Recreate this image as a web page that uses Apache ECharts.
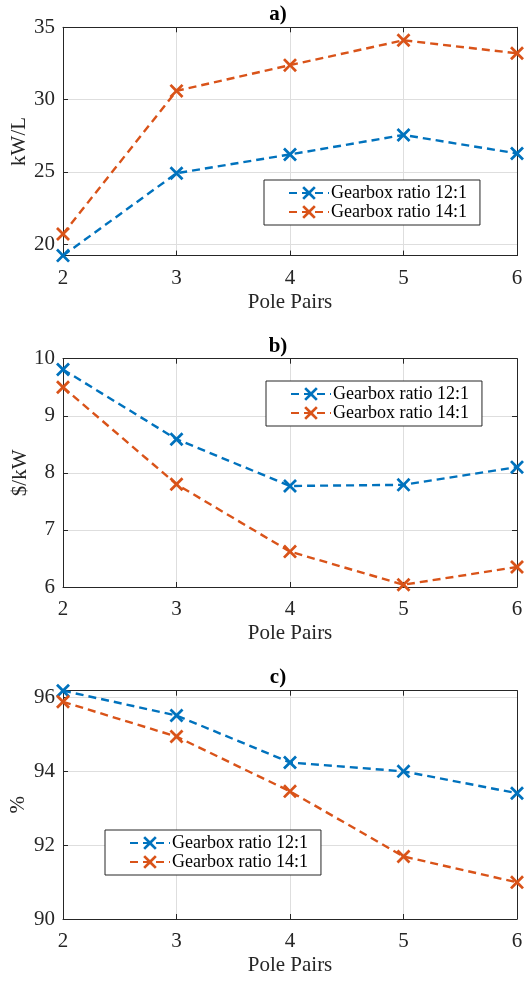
<!DOCTYPE html>
<html>
<head>
<meta charset="utf-8">
<script src="https://cdn.jsdelivr.net/npm/echarts@6/dist/echarts.min.js"></script>
<style>
  html, body { margin: 0; padding: 0; background: #fff; }
  #chart { width: 525px; height: 981px; }
</style>
</head>
<body>
<div id="chart"></div>
<script>
// Pole-pair sweep for two gearbox ratios
const polePairs = [2, 3, 4, 5, 6];
const seriesNames = ['Gearbox ratio 12:1', 'Gearbox ratio 14:1'];
const panelTitles = ['a)', 'b)', 'c)'];
const yAxisNames = ['kW/L', '$/kW', '%'];
const xAxisName = 'Pole Pairs';

// a) power density
const powerDensity12 = [19.2, 24.9, 26.2, 27.55, 26.27];
const powerDensity14 = [20.7, 30.6, 32.38, 34.1, 33.2];
// b) specific cost
const costPerKw12 = [9.81, 8.59, 7.77, 7.79, 8.10];
const costPerKw14 = [9.5, 7.80, 6.62, 6.04, 6.35];
// c) efficiency
const efficiency12 = [96.17, 95.5, 94.23, 93.99, 93.4];
const efficiency14 = [95.87, 94.93, 93.45, 91.69, 90.99];

const panels = [
  [powerDensity12, powerDensity14],
  [costPerKw12, costPerKw14],
  [efficiency12, efficiency14]
];

const FONT = '"Liberation Serif", "Times New Roman", serif';
const AXIS_COLOR = '#262626';
const COLORS = ['#0072BD', '#D95319'];
// cross marker drawn as a filled outline
const CROSS = 'path://M0,14L14,0L50,36L86,0L100,14L64,50L100,86L86,100L50,64L14,100L0,86L36,50Z';

const gridTops = [27.3, 358.7, 690.7];
const gridHeight = 228.3;
const yRanges = [
  { min: v => v.min, max: 35, splitNumber: 3, showMinLabel: false, showMaxLabel: true },
  { min: 6, max: 10, interval: 1, showMinLabel: true, showMaxLabel: true },
  { min: 90, max: v => v.max, interval: 2, showMinLabel: true, showMaxLabel: false }
];
const yNameGaps = [33, 32, 34];
const legendPos = [
  { left: 264, top: 180 },
  { left: 266, top: 381 },
  { left: 105, top: 830 }
];
const titleTops = [4, 336, 667];

const grid = [], xAxis = [], yAxis = [], series = [], legend = [], title = [];

panels.forEach((vals, i) => {
  grid.push({
    left: 63, right: 8, top: gridTops[i], height: gridHeight,
    containLabel: false, outerBoundsMode: 'none'
  });

  const xBase = {
    gridIndex: i, type: 'value', min: 2, max: 6, interval: 1,
    axisLine: { show: true, onZero: false, lineStyle: { color: AXIS_COLOR, width: 1 } },
    axisTick: { show: true, inside: true, length: 5, lineStyle: { color: AXIS_COLOR } }
  };
  xAxis.push(Object.assign({}, xBase, {
    position: 'bottom',
    name: xAxisName, nameLocation: 'middle', nameGap: 36, nameMoveOverlap: false,
    nameTextStyle: { fontFamily: FONT, fontSize: 21, color: AXIS_COLOR },
    axisLabel: { fontFamily: FONT, fontSize: 21, color: AXIS_COLOR, margin: 12 },
    splitLine: { show: true, lineStyle: { color: '#dedede', width: 1 } }
  }));
  xAxis.push(Object.assign({}, xBase, {
    position: 'top', axisLabel: { show: false }, splitLine: { show: false }
  }));

  const r = yRanges[i];
  const yBase = {
    gridIndex: i, type: 'value', min: r.min, max: r.max, scale: true,
    axisLine: { show: true, onZero: false, lineStyle: { color: AXIS_COLOR, width: 1 } },
    axisTick: { show: true, inside: true, length: 5, lineStyle: { color: AXIS_COLOR } }
  };
  if (r.interval) yBase.interval = r.interval;
  if (r.splitNumber) yBase.splitNumber = r.splitNumber;
  yAxis.push(Object.assign({}, yBase, {
    position: 'left',
    name: yAxisNames[i], nameLocation: 'middle', nameGap: yNameGaps[i], nameMoveOverlap: false,
    nameTextStyle: { fontFamily: FONT, fontSize: 21, color: AXIS_COLOR },
    axisLabel: {
      fontFamily: FONT, fontSize: 21, color: AXIS_COLOR, margin: 8,
      showMinLabel: r.showMinLabel, showMaxLabel: r.showMaxLabel
    },
    splitLine: { show: true, lineStyle: { color: '#dedede', width: 1 } }
  }));
  yAxis.push(Object.assign({}, yBase, {
    position: 'right', axisLabel: { show: false }, splitLine: { show: false }
  }));

  vals.forEach((v, k) => {
    series.push({
      name: seriesNames[k],
      type: 'line',
      xAxisIndex: 2 * i,
      yAxisIndex: 2 * i,
      data: polePairs.map((p, j) => [p, v[j]]),
      symbol: CROSS,
      symbolSize: 14,
      showAllSymbol: true,
      clip: false,
      color: COLORS[k],
      itemStyle: { color: COLORS[k] },
      lineStyle: { color: COLORS[k], width: 2.4, type: [8, 5] },
      emphasis: { disabled: true },
      animation: false,
      z: 3
    });
  });

  legend.push(Object.assign({
    data: seriesNames,
    orient: 'vertical',
    selectedMode: false,
    backgroundColor: '#fff',
    borderColor: AXIS_COLOR,
    borderWidth: 1,
    padding: [4, 13, 4, 24],
    itemGap: 1,
    itemWidth: 40,
    itemHeight: 17,
    textStyle: { fontFamily: FONT, fontSize: 18, color: '#000', padding: [0, 0, 0, -3] },
    z: 10
  }, legendPos[i]));

  title.push({
    text: panelTitles[i],
    left: 278,
    top: titleTops[i],
    textAlign: 'center',
    padding: 0,
    textStyle: { fontFamily: FONT, fontSize: 21, fontWeight: 'bold', color: '#000' }
  });
});

const chart = echarts.init(document.getElementById('chart'), null, { renderer: 'canvas' });
chart.setOption({
  animation: false,
  backgroundColor: '#fff',
  title, grid, xAxis, yAxis, legend, series
});
</script>
</body>
</html>
